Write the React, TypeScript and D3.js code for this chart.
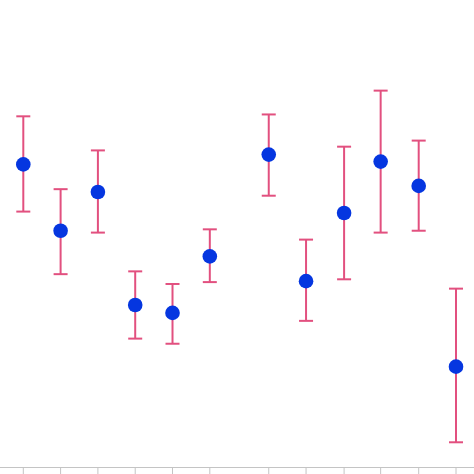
import React from "react";
import * as d3 from "d3";

const xValues = [0, 1, 2, 3, 4, 5, 6.58, 7.58, 8.6, 9.58, 10.6, 11.6];
const means = [6.49, 5.07, 5.9, 3.48, 3.31, 4.52, 6.7, 3.99, 5.45, 6.55, 6.03, 2.16];
const upper = [7.52, 5.96, 6.79, 4.2, 3.93, 5.1, 7.56, 4.88, 6.87, 8.07, 7.0, 3.83];
const lower = [5.48, 4.14, 5.03, 2.76, 2.65, 3.97, 5.82, 3.14, 4.03, 5.03, 5.07, 0.54];
const tickValues = [0, 1, 2, 3, 4, 5, 6.58, 7.58, 8.6, 9.58, 10.6, 11.6];

const W = 474;
const H = 474;

export default function App() {
  const x = d3.scaleLinear().domain([0, 11.6]).range([23.3, 456]);
  const y = d3.scaleLinear().domain([0, 10]).range([467.5, 0.5]);
  const axisY = 467.5;
  const cap = 7;
  return (
    <svg
      width={W}
      height={H}
      style={{ position: "absolute", left: 0, top: 0, background: "#fff" }}
    >
      <line x1={0} x2={W} y1={axisY} y2={axisY} stroke="#c4c4c4" strokeWidth={1} />
      {tickValues.map((t, i) => (
        <line
          key={"t" + i}
          x1={x(t)}
          x2={x(t)}
          y1={axisY}
          y2={H}
          stroke="#c4c4c4"
          strokeWidth={1}
        />
      ))}
      {xValues.map((xv, i) => {
        const cx = x(xv);
        return (
          <g key={i}>
            <line x1={cx} x2={cx} y1={y(upper[i])} y2={y(lower[i])} stroke="#e2507f" strokeWidth={2} />
            <line x1={cx - cap} x2={cx + cap} y1={y(upper[i])} y2={y(upper[i])} stroke="#e2507f" strokeWidth={2} />
            <line x1={cx - cap} x2={cx + cap} y1={y(lower[i])} y2={y(lower[i])} stroke="#e2507f" strokeWidth={2} />
            <circle cx={cx} cy={y(means[i])} r={7.3} fill="#0536e0" />
          </g>
        );
      })}
    </svg>
  );
}
